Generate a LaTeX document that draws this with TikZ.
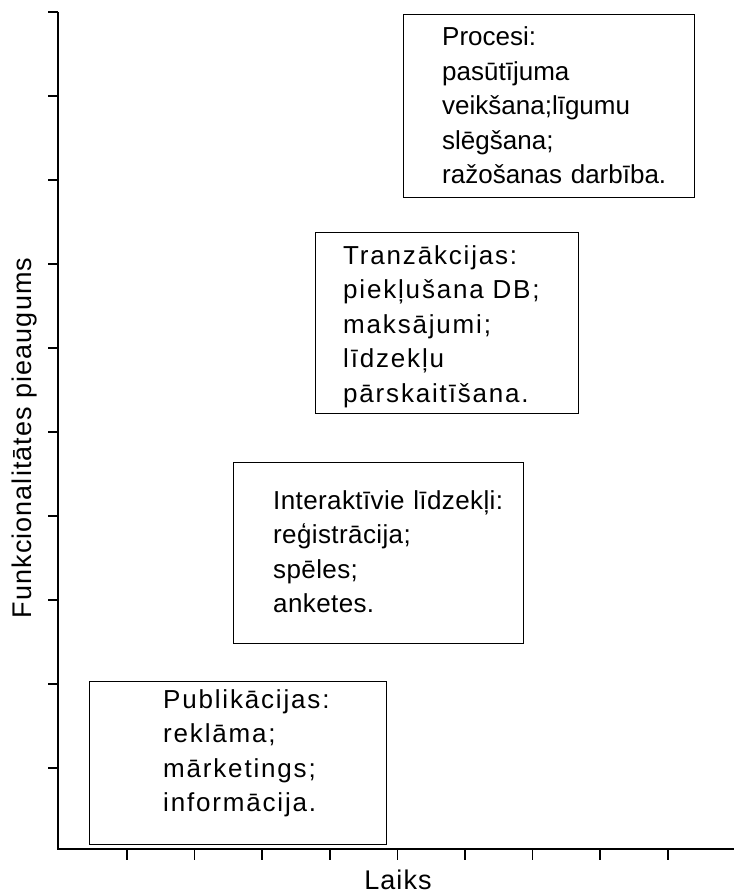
\documentclass[tikz,border=0pt]{standalone}
\usepackage{fontspec}
\setmainfont{Liberation Sans}[LetterSpace=4]
% one tracking per panel
\newfontfamily\trackTight{Liberation Sans}[LetterSpace=0]
\newfontfamily\trackSlight{Liberation Sans}[LetterSpace=1.5]
\newfontfamily\trackWide{Liberation Sans}[LetterSpace=7]
\begin{document}
\begin{tikzpicture}[x=1pt,y=-1pt,
  axis/.style={line width=2pt},
  tickmark/.style={line width=1.6pt},
  panel/.style={draw, line width=1.4pt, inner sep=0pt, anchor=north west},
  paneltext/.style={anchor=base west, inner sep=0pt, align=left, text width=300pt,
    font=#1\fontsize{26}{34.5}\selectfont},
  axislabel/.style={font=\fontsize{27}{32}\selectfont, inner sep=0pt}]
\useasboundingbox (0,0) rectangle (734,896);

% axes
\coordinate (ytop) at (58,12);
\coordinate (origin) at (58,849);
\coordinate (xend) at (734,849);
\draw[axis] (ytop) -- (origin) -- (xend);
\foreach \yy in {0,...,9}
  \draw[tickmark] (48,12+84*\yy) -- (58,12+84*\yy);
\foreach \xx in {0,...,8}
  \draw[tickmark] (127+67.6*\xx,849) -- (127+67.6*\xx,860);

\node[axislabel, rotate=90] (ylabel) at (25,438) {Funkcionalitātes pieaugums};
\node[axislabel] (xlabel) at (398,880) {Laiks};

% stages
\node[panel, minimum width=291pt, minimum height=183pt] (procBox) at (403,14) {};
\node[paneltext=\trackTight] (procText) at (442,46)
  {Procesi:\\pasūtījuma\\veikšana;līgumu\\slēgšana;\\ražošanas darbība.};

\node[panel, minimum width=263pt, minimum height=181pt] (tranBox) at (315,232) {};
\node[paneltext=\trackWide] (tranText) at (343,264)
  {Tranzākcijas:\\piekļušana DB;\\maksājumi;\\līdzekļu\\pārskaitīšana.};

\node[panel, minimum width=290pt, minimum height=181pt] (intBox) at (233,462) {};
\node[paneltext=\trackSlight] (intText) at (273,509)
  {Interaktīvie līdzekļi:\\reģistrācija;\\spēles;\\anketes.};

\node[panel, minimum width=297pt, minimum height=163pt] (pubBox) at (89,681) {};
\node[paneltext=\trackWide] (pubText) at (163,708)
  {Publikācijas:\\reklāma;\\mārketings;\\informācija.};
\end{tikzpicture}
\end{document}
